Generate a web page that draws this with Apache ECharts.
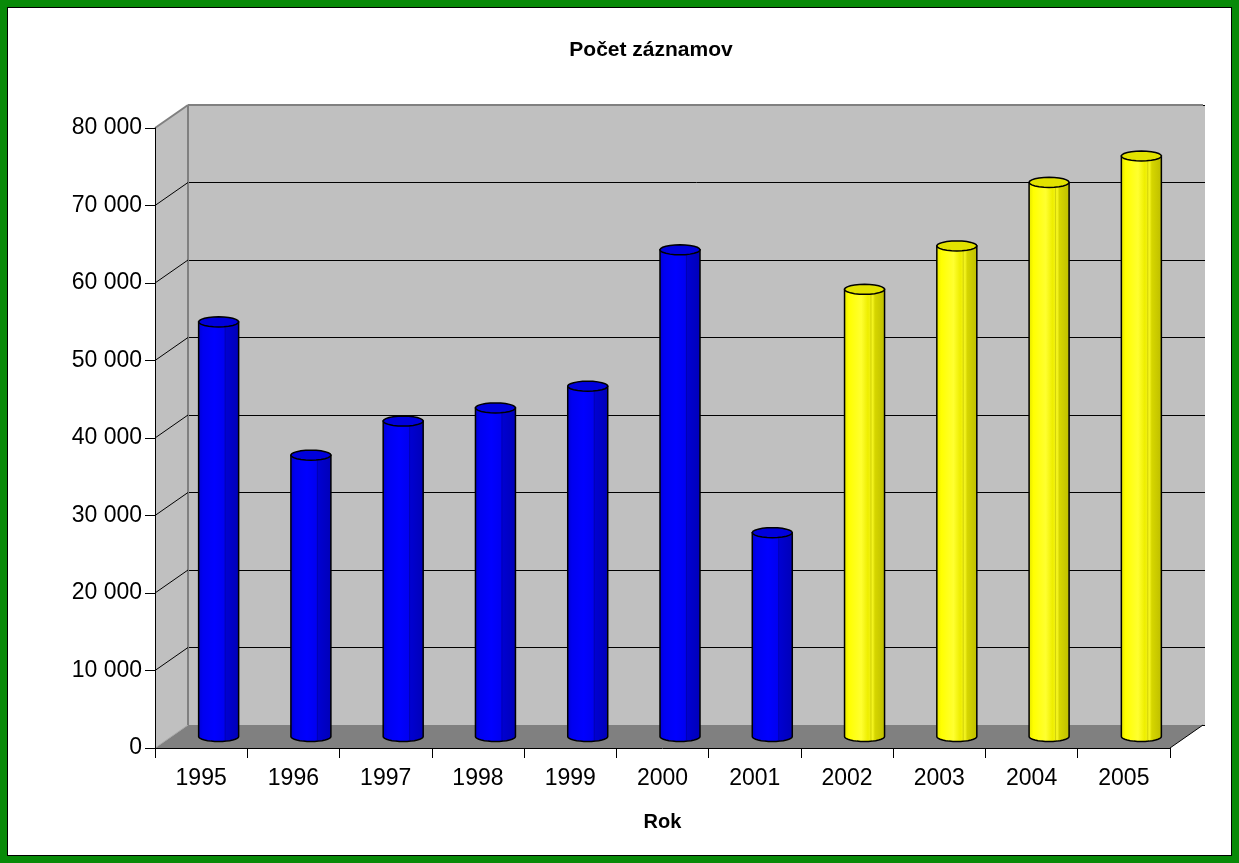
<!DOCTYPE html>
<html>
<head>
<meta charset="utf-8">
<script src="https://cdn.jsdelivr.net/npm/echarts/dist/echarts.min.js"></script>
<style>
  html, body { margin: 0; padding: 0; }
  body { width: 1239px; height: 863px; background: #088A08; position: relative; overflow: hidden; }
  #frame { position: absolute; left: 7px; top: 7px; width: 1225px; height: 849px; background: #fff; border: 1px solid #000; box-sizing: border-box; }
  #chart { position: absolute; left: 0; top: 0; width: 1239px; height: 863px; }
</style>
</head>
<body>
<div id="frame"></div>
<div id="chart"></div>
<script>
// ---- data ----
const years = ['1995', '1996', '1997', '1998', '1999', '2000', '2001', '2002', '2003', '2004', '2005'];
const counts = [53500, 36300, 40700, 42400, 45200, 62800, 26300, 57700, 63300, 71500, 74900];
const yellowYears = ['2002', '2003', '2004', '2005'];
const yTicks = [0, 10000, 20000, 30000, 40000, 50000, 60000, 70000, 80000];
const chartTitle = 'Počet záznamov';
const xAxisName = 'Rok';

// ---- style constants ----
const DX = 33, DY = -23;      // 3D depth offset
const R = 20, RY = 5;         // cylinder radius / cap half-height
const FONT = 'Liberation Sans, Arial, sans-serif';

const blueFill = { type: 'linear', x: 0, y: 0, x2: 1, y2: 0, colorStops: [
  { offset: 0, color: '#0000D0' }, { offset: 0.12, color: '#0000F0' }, { offset: 0.4, color: '#0000FF' },
  { offset: 0.64, color: '#0000F0' }, { offset: 0.66, color: '#0000D2' }, { offset: 1, color: '#0000B8' } ] };
const yellowFill = { type: 'linear', x: 0, y: 0, x2: 1, y2: 0, colorStops: [
  { offset: 0, color: '#E2E200' }, { offset: 0.12, color: '#FFFF00' }, { offset: 0.42, color: '#FFFF30' },
  { offset: 0.58, color: '#EEEE00' }, { offset: 0.7, color: '#F4F420' }, { offset: 0.75, color: '#D6D600' },
  { offset: 1, color: '#BDBD00' } ] };

function ellipsePts(cx, cy, rx, ry, a0, a1, n) {
  const pts = [];
  for (let k = 0; k <= n; k++) {
    const t = a0 + (a1 - a0) * k / n;
    pts.push([cx + rx * Math.cos(t), cy + ry * Math.sin(t)]);
  }
  return pts;
}

function renderBar(params, api) {
  const i = api.value(0), v = api.value(1);
  const base = api.coord([i, 0]);
  const top = api.coord([i, v]);
  const cx = base[0] + DX / 2 + 1;
  const by = base[1] + DY / 2;
  const ty = top[1] + DY / 2;
  const isYellow = yellowYears.indexOf(years[i]) >= 0;
  const body = [[cx - R, ty], [cx - R, by]]
    .concat(ellipsePts(cx, by, R, RY, Math.PI, 0, 16))
    .concat([[cx + R, ty]]);
  const cap = ellipsePts(cx, ty, R, RY, 0, Math.PI * 2, 24);
  return {
    type: 'group',
    children: [
      { type: 'polygon', shape: { points: body },
        style: { fill: isYellow ? yellowFill : blueFill, stroke: '#000', lineWidth: 1.5 } },
      { type: 'line', shape: { x1: cx + R * 0.32, y1: ty + RY, x2: cx + R * 0.32, y2: by + RY * 0.9 },
        style: { stroke: isYellow ? 'rgba(150,150,0,0.35)' : 'rgba(0,0,120,0.4)', lineWidth: 1 } },
      { type: 'polygon', shape: { points: cap },
        style: { fill: isYellow ? '#E2E200' : '#0000DC', stroke: '#000', lineWidth: 1.5 } }
    ]
  };
}

function renderWalls(params, api) {
  const cs = params.coordSys;
  const L = cs.x, T = cs.y, Rr = cs.x + cs.width, B = cs.y + cs.height;
  return {
    type: 'group',
    children: [
      { type: 'polygon', shape: { points: [[L, T], [L + DX, T + DY], [L + DX, B + DY], [L, B]] },
        style: { fill: '#C0C0C0', stroke: null } },
      { type: 'polygon', shape: { points: [[L, B], [L + DX, B + DY], [Rr + DX, B + DY], [Rr, B]] },
        style: { fill: '#808080', stroke: null } },
      { type: 'line', shape: { x1: L, y1: B, x2: L + DX, y2: B + DY }, style: { stroke: '#A8A8A8', lineWidth: 1 } },
      { type: 'line', shape: { x1: L, y1: T, x2: L + DX, y2: T + DY }, style: { stroke: '#808080', lineWidth: 2 } },
      { type: 'line', shape: { x1: L + DX, y1: T + DY, x2: Rr + DX, y2: T + DY }, style: { stroke: '#808080', lineWidth: 2 } },
      { type: 'line', shape: { x1: L + DX, y1: T + DY, x2: L + DX, y2: B + DY }, style: { stroke: '#808080', lineWidth: 2 } },
      { type: 'line', shape: { x1: Rr, y1: B, x2: Rr + DX, y2: B + DY }, style: { stroke: '#000', lineWidth: 1 } }
    ]
  };
}

function renderSideGrid(params, api) {
  const cs = params.coordSys;
  const v = api.value(1);
  const y = api.coord([0, v])[1];
  return { type: 'line', shape: { x1: cs.x, y1: y, x2: cs.x + DX, y2: y + DY },
    style: { stroke: '#000', lineWidth: 1 } };
}

const fmt = v => v === 0 ? '0' : (v / 1000) + ' 000';

const chart = echarts.init(document.getElementById('chart'), null, { renderer: 'canvas' });
chart.setOption({
  backgroundColor: 'transparent',
  animation: false,
  title: {
    text: chartTitle, left: 646, top: 35, textAlign: 'center',
    textStyle: { fontFamily: FONT, fontSize: 21, fontWeight: 'bold', color: '#000' }
  },
  grid: [
    { left: 155, top: 128, width: 1015, height: 620 },
    { left: 155 + DX, top: 128 + DY, width: 1015 + 2, height: 620, show: true, backgroundColor: '#C0C0C0', borderWidth: 0 }
  ],
  xAxis: [
    { type: 'category', gridIndex: 0, data: years, boundaryGap: true, z: 5,
      axisLine: { lineStyle: { color: '#000', width: 1 } },
      axisTick: { show: true, interval: 0, length: 10, lineStyle: { color: '#000' } },
      axisLabel: { interval: 0, margin: 19, fontFamily: FONT, fontSize: 23, color: '#000' },
      splitLine: { show: false },
      name: xAxisName, nameLocation: 'middle', nameGap: 64,
      nameTextStyle: { fontFamily: FONT, fontSize: 20, fontWeight: 'bold', color: '#000' } },
    { type: 'value', gridIndex: 1, min: 0, max: 1, show: false }
  ],
  yAxis: [
    { type: 'value', gridIndex: 0, min: yTicks[0], max: yTicks[yTicks.length - 1], interval: 10000, z: 5,
      axisLine: { show: true, lineStyle: { color: '#000', width: 1 } },
      axisTick: { show: true, length: 10, lineStyle: { color: '#000' } },
      axisLabel: { margin: 13, fontFamily: FONT, fontSize: 23, color: '#000', formatter: fmt },
      splitLine: { show: false } },
    { type: 'value', gridIndex: 1, min: yTicks[0], max: yTicks[yTicks.length - 1], interval: 10000,
      axisLine: { show: false }, axisTick: { show: false }, axisLabel: { show: false },
      splitLine: { show: true, lineStyle: { color: '#000', width: 1 } } }
  ],
  series: [
    { type: 'custom', name: 'walls', xAxisIndex: 0, yAxisIndex: 0, z: 1, silent: true,
      renderItem: renderWalls, data: [[0, 0]] },
    { type: 'custom', name: 'sideGrid', xAxisIndex: 0, yAxisIndex: 0, z: 2, silent: true,
      renderItem: renderSideGrid, data: yTicks.slice(1, -1).map(v => [0, v]) },
    { type: 'custom', name: 'Počet záznamov', xAxisIndex: 0, yAxisIndex: 0, z: 3,
      renderItem: renderBar, data: counts.map((v, i) => [i, v]) }
  ]
});
</script>
</body>
</html>
